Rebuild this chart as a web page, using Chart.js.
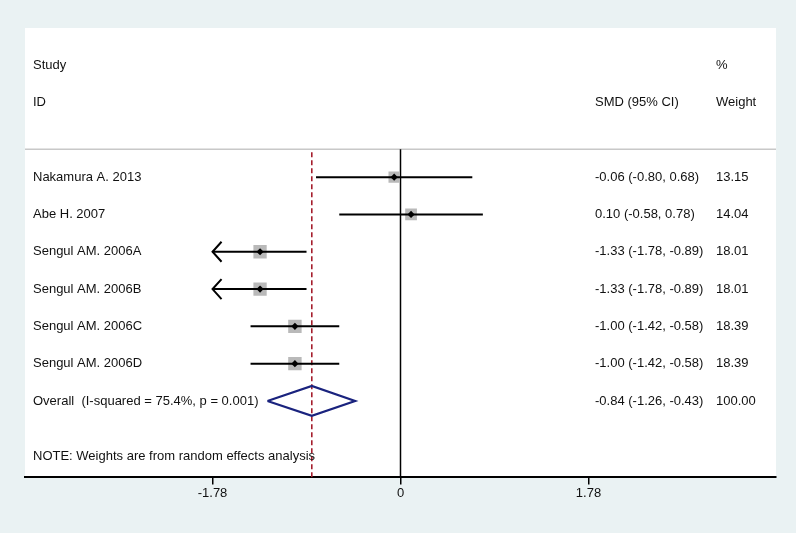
<!DOCTYPE html>
<html>
<head>
<meta charset="utf-8">
<script src="https://cdn.jsdelivr.net/npm/chart.js@4.4.1/dist/chart.umd.min.js"></script>
<style>
  html, body { margin: 0; padding: 0; background: rgb(234,242,243); }
  #wrap { width: 796px; height: 533px; }
</style>
</head>
<body>
<div id="wrap"><canvas id="forest"></canvas></div>
<script>
// study data
const studies = ["Nakamura A. 2013", "Abe H. 2007", "Sengul AM. 2006A", "Sengul AM. 2006B", "Sengul AM. 2006C", "Sengul AM. 2006D"];
const smd = [-0.06, 0.10, -1.33, -1.33, -1.00, -1.00];
const ciLow = [-0.80, -0.58, -1.78, -1.78, -1.42, -1.42];
const ciHigh = [0.68, 0.78, -0.89, -0.89, -0.58, -0.58];
const weights = [13.15, 14.04, 18.01, 18.01, 18.39, 18.39];

const overallLabel = "Overall  (I-squared = 75.4%, p = 0.001)";
const overall = -0.84;
const overallLow = -1.26;
const overallHigh = -0.43;
const overallWeight = 100.00;

const noteText = "NOTE: Weights are from random effects analysis";
const xTicks = [-1.78, 0, 1.78];
const xMin = -3.556, xMax = 3.556;

const rows = studies.map((s, i) => i + 1);
const overallRow = studies.length + 1;

function fmt(v) { return v.toFixed(2); }

const ciSets = studies.map((s, i) => ({
  type: 'line',
  data: [{x: ciLow[i], y: rows[i]}, {x: ciHigh[i], y: rows[i]}],
  borderColor: '#000',
  borderWidth: 2,
  pointRadius: 0
}));

const maxW = Math.max(...weights);

const datasets = [
  {
    // point estimates
    type: 'scatter',
    data: smd.map((v, i) => ({x: v, y: rows[i]})),
    pointStyle: 'rectRot',
    pointRadius: 3.6,
    backgroundColor: '#000',
    borderColor: '#000',
    borderWidth: 0
  },
  ...ciSets,
  {
    // weight boxes
    type: 'scatter',
    data: smd.map((v, i) => ({x: v, y: rows[i]})),
    pointStyle: 'rect',
    pointRadius: weights.map(w => 9.5 * Math.sqrt(w / maxW)),
    backgroundColor: 'rgb(185,185,185)',
    borderWidth: 0
  },
  {
    // pooled diamond
    type: 'line',
    data: [
      {x: overallLow, y: overallRow},
      {x: overall, y: overallRow - 0.4},
      {x: overallHigh, y: overallRow},
      {x: overall, y: overallRow + 0.4},
      {x: overallLow, y: overallRow}
    ],
    borderColor: 'rgb(26,35,126)',
    borderWidth: 2.2,
    pointRadius: 0,
    fill: false,
    tension: 0
  },
  {
    // pooled estimate reference
    type: 'line',
    data: [{x: overall, y: 0.33}, {x: overall, y: 9.05}],
    borderColor: 'rgb(165,30,45)',
    borderWidth: 1.6,
    borderDash: [5, 3],
    pointRadius: 0
  },
  {
    // null line
    type: 'line',
    data: [{x: 0, y: 0.25}, {x: 0, y: 9.05}],
    borderColor: '#000',
    borderWidth: 1.5,
    pointRadius: 0
  },
  {
    // header separator
    type: 'line',
    data: [{x: xMin, y: 0.25}, {x: xMax, y: 0.25}],
    borderColor: 'rgb(200,200,200)',
    borderWidth: 1.5,
    pointRadius: 0
  }
];

const backdrop = {
  id: 'backdrop',
  beforeDraw(chart) {
    const ctx = chart.ctx, a = chart.chartArea;
    ctx.save();
    ctx.fillStyle = 'rgb(234,242,243)';
    ctx.fillRect(0, 0, chart.width, chart.height);
    ctx.fillStyle = '#fff';
    ctx.fillRect(a.left, a.top, a.right - a.left, a.bottom - a.top);
    ctx.restore();
  }
};

const texts = {
  id: 'texts',
  afterDatasetsDraw(chart) {
    const ctx = chart.ctx;
    const xs = chart.scales.x, ys = chart.scales.y;
    ctx.save();
    ctx.font = '13px "Liberation Sans", Arial, sans-serif';
    ctx.fillStyle = '#111';
    ctx.textBaseline = 'middle';
    ctx.textAlign = 'left';
    const put = (t, x, row) => ctx.fillText(t, x, ys.getPixelForValue(row));
    put("Study", 33, -2);
    put("ID", 33, -1);
    put("SMD (95% CI)", 595, -1);
    put("%", 716, -2);
    put("Weight", 716, -1);
    studies.forEach((s, i) => {
      put(s, 33, rows[i]);
      put(fmt(smd[i]) + " (" + fmt(ciLow[i]) + ", " + fmt(ciHigh[i]) + ")", 595, rows[i]);
      put(fmt(weights[i]), 716, rows[i]);
    });
    put(overallLabel, 33, overallRow);
    put(fmt(overall) + " (" + fmt(overallLow) + ", " + fmt(overallHigh) + ")", 595, overallRow);
    put(fmt(overallWeight), 716, overallRow);
    put(noteText, 33, 8.5);

    // arrows where the CI runs past the lowest tick
    ctx.strokeStyle = '#000';
    ctx.lineWidth = 2;
    studies.forEach((s, i) => {
      if (ciLow[i] <= xTicks[0]) {
        const px = xs.getPixelForValue(ciLow[i]);
        const py = ys.getPixelForValue(rows[i]);
        ctx.beginPath();
        ctx.moveTo(px + 9, py - 10);
        ctx.lineTo(px, py);
        ctx.lineTo(px + 9, py + 10);
        ctx.stroke();
      }
    });
    ctx.restore();
  }
};

new Chart(document.getElementById('forest'), {
  type: 'scatter',
  data: { datasets: datasets },
  options: {
    responsive: true,
    maintainAspectRatio: false,
    animation: false,
    layout: { padding: { left: 25, right: 20, top: 28, bottom: 31 } },
    plugins: { legend: { display: false }, tooltip: { enabled: false } },
    scales: {
      x: {
        type: 'linear',
        min: xMin,
        max: xMax,
        afterBuildTicks: (s) => { s.ticks = xTicks.map(v => ({ value: v })); },
        ticks: {
          color: '#111',
          font: { family: '"Liberation Sans", Arial, sans-serif', size: 13 },
          padding: 1,
          maxRotation: 0,
          autoSkip: false,
          callback: (v) => String(v)
        },
        grid: { drawOnChartArea: false, drawTicks: true, tickLength: 7, color: '#000', lineWidth: 1.5 },
        border: { display: true, color: '#000', width: 2 }
      },
      y: {
        type: 'linear',
        reverse: true,
        min: -3,
        max: 9.05,
        display: false
      }
    }
  },
  plugins: [backdrop, texts]
});
</script>
</body>
</html>
